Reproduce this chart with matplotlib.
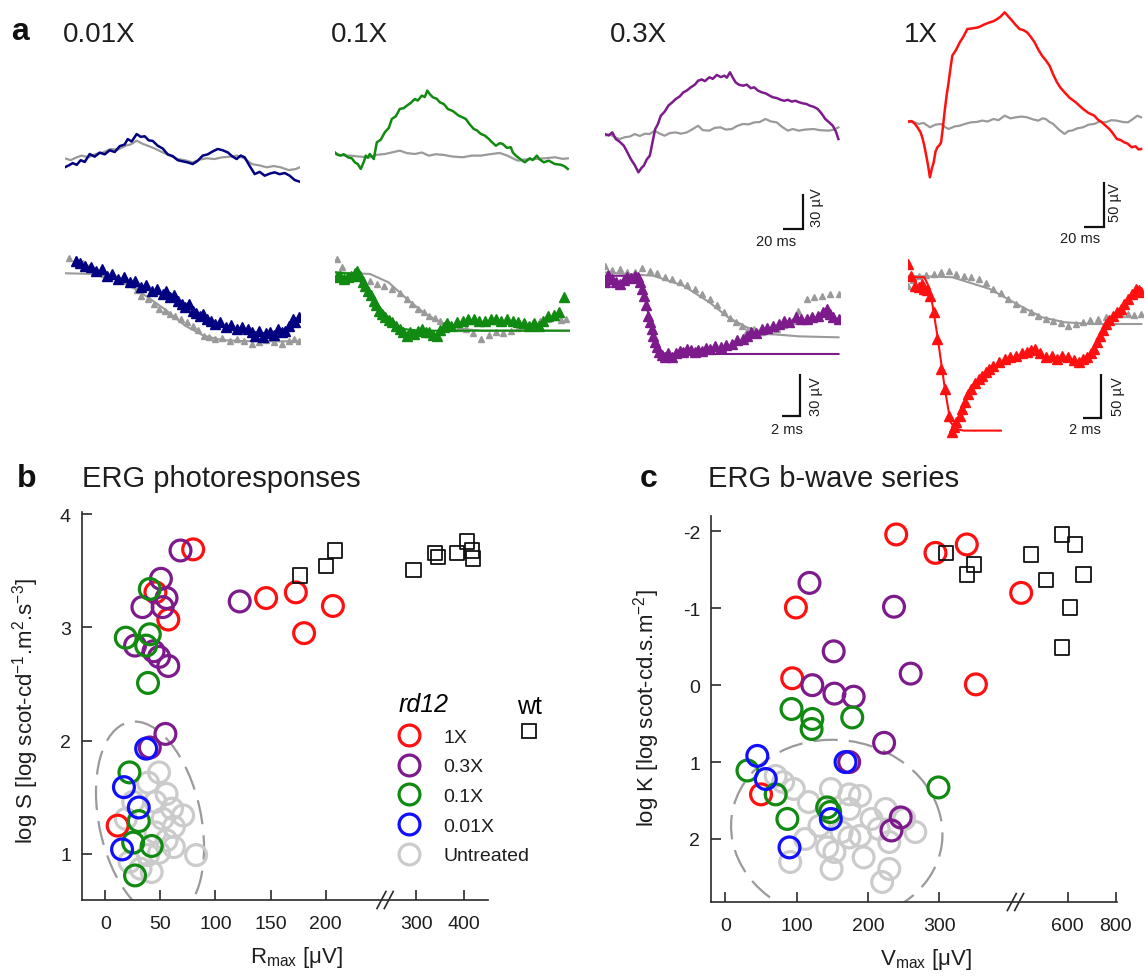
import numpy as np
import matplotlib
matplotlib.use('Agg')
import matplotlib.pyplot as plt
from matplotlib.lines import Line2D
from matplotlib.patches import Ellipse
from matplotlib.transforms import IdentityTransform

plt.rcParams['font.family'] = ['Liberation Sans', 'DejaVu Sans']
plt.rcParams['mathtext.fontset'] = 'custom'
plt.rcParams['mathtext.rm'] = 'Liberation Sans'
plt.rcParams['mathtext.it'] = 'Liberation Sans:italic'
plt.rcParams['mathtext.default'] = 'regular'
plt.rcParams['axes.unicode_minus'] = False

# ---------------- panel a: ERG traces (t in ms, response in uV) ----------------
DOSE_LABELS = ['0.01X', '0.1X', '0.3X', '1X']

# b-wave series, treated (coloured) and untreated (gray)
TOP_001X = [(0, -7.1), (4, -5.5), (8, -3.5), (12, -5.0), (16, -1.0), (20, -2.5), (25, 4.3), (30, 2.0),
            (35, 5.5), (40, 4.0), (45, 7.5), (50, 6.0), (55, 11.0), (60, 12.5), (63, 17.1), (67, 15.0),
            (72, 21.4), (76, 19.0), (80, 19.5), (84, 16.0), (88, 15.5), (93, 11.4), (98, 9.0), (103, 4.0),
            (108, 2.5), (113, -1.0), (118, -2.0), (123, -2.9), (128, -4.3), (133, -1.5), (138, 2.9),
            (143, 4.0), (148, 6.5), (153, 8.6), (158, 7.5), (163, 5.7), (168, 2.0), (172, 0), (176, 3.0),
            (180, 1.4), (185, -6.0), (190, -12.9), (195, -11.0), (200, -14.3), (205, -12.5), (210, -11.4),
            (215, -13.0), (220, -12.0), (225, -14.3), (230, -18.0), (235, -19.4)]
TOP_001X_GRAY = [(0, 0.6), (6, -1.0), (12, 1.5), (17, 2.9), (24, 1.5), (31, 4.3), (38, 5.5), (46, 8.6),
                 (53, 8.0), (61, 11.4), (66, 12.5), (72, 15.7), (78, 13.0), (83, 11.4), (90, 9.0), (98, 5.7),
                 (105, 3.0), (113, 0), (120, -1.0), (128, -2.9), (135, -0.5), (142, 0.6), (150, 0.0),
                 (157, 1.4), (165, 2.0), (172, 2.9), (180, 0.5), (187, -4.3), (195, -5.5), (202, -7.1),
                 (209, -6.0), (216, -7.1), (224, -9.5), (231, -8.6), (235, -7.1)]
TOP_01X = [(0, 3.1), (3, 1.0), (5.5, 0.3), (9, 1.5), (13, -1.1), (17, -2.0), (20, -5.4), (23, -7.0),
           (26, -11.1), (29, -5.0), (31, 0.3), (33, -1.5), (35, 1.7), (39, -2.6), (42, 11.7), (46, 14.0),
           (50, 20.3), (54, 24.0), (57, 31.7), (61, 34.0), (65, 40.3), (69, 41.0), (72, 43.1), (76, 45.5),
           (80, 48.8), (83, 47.5), (87, 51.7), (90, 50.5), (92.5, 56.0), (95, 53.0), (98, 50.3), (102, 49.0),
           (105, 46.0), (109, 44.5), (113, 40.3), (118, 38.5), (124, 34.5), (128, 33.0), (131, 31.7),
           (135, 27.0), (139, 23.1), (142, 22.0), (146, 18.9), (150, 17.5), (154, 14.6), (157, 12.0),
           (161, 8.8), (165, 11.0), (168, 10.3), (172, 7.0), (176, 7.5), (178, 3.0), (181, 0.3), (186, -3.0),
           (190, -5.4), (195, -2.0), (198, -3.5), (202, 0.3), (205, -3.0), (209, -5.4), (214, -4.0),
           (220, -6.9), (226, -7.5), (230, -9.0), (233, -11.1)]
TOP_01X_GRAY = [(0, 1.7), (8, 0.5), (16, 0.3), (24, -0.5), (35, -1.1), (42, 1.0), (50, 1.7), (57, 3.0),
                (65, 4.6), (72, 2.5), (80, 1.7), (87, 3.0), (94, 0.3), (101, 1.5), (109, 0.9), (118, -0.5),
                (128, -1.1), (137, 0.3), (146, 0.3), (155, 1.5), (165, 2.6), (172, 0.5), (178, -2.0),
                (183, -4.0), (190, -3.0), (200, -2.6), (210, -2.0), (220, -1.1), (228, -2.5), (233, -2.0)]
TOP_03X = [(0, 1.7), (4, 0.5), (7.5, 3.1), (11, -2.6), (15, -5.0), (19, -8.3), (22, -13.0), (26, -19.7),
           (30, -25.0), (33.6, -31.1), (37, -27.0), (39, -25.4), (42, -20.0), (45, -16.9), (48, -4.0),
           (50.4, 6.0), (53, 10.0), (56, 17.4), (60, 21.0), (63.5, 26.0), (67, 28.5), (71, 31.7), (75, 34.0),
           (78.5, 37.4), (82, 39.0), (86, 41.7), (90, 44.0), (93.4, 47.4), (97, 48.5), (100, 47.0),
           (104.6, 50.3), (108, 49.0), (112, 52.3), (116, 50.5), (119.6, 51.7), (122, 50.0), (125.2, 54.6),
           (128, 50.0), (130.8, 46.0), (134, 44.0), (138.3, 43.1), (142, 44.0), (146, 41.0), (149.5, 41.7),
           (153, 39.0), (157, 37.4), (161, 36.5), (165, 34.5), (168, 33.2), (172, 32.5), (176, 31.0),
           (179.4, 30.2), (183, 31.0), (187, 29.5), (190.6, 30.2), (194, 29.0), (198, 28.0), (201.8, 27.4),
           (205, 26.0), (209, 25.0), (213, 23.1), (217, 19.0), (220.5, 14.6), (224, 12.0), (228, 8.8),
           (231, 4.0), (233.6, -2.6)]
TOP_03X_GRAY = [(0, 0.3), (5, 1.5), (10, -1.0), (14.9, -2.6), (20, -1.0), (25, -0.5), (29.9, 1.7), (35, 0.0),
                (40, 2.0), (44.8, 1.7), (50, 4.5), (55, 2.0), (59.8, 0.3), (65, 2.5), (71, 3.1), (76, 2.0),
                (82, 3.1), (87, 5.5), (93.4, 8.8), (98, 5.0), (104.6, 4.6), (110, 7.0), (115.8, 7.4),
                (121, 5.5), (127, 6.0), (132, 8.5), (138, 10.3), (144, 10.0), (149.5, 11.7), (155, 12.0),
                (160.7, 14.6), (166, 12.5), (172, 11.7), (177, 8.0), (183, 4.6), (188, 6.0), (194, 4.6),
                (200, 5.5), (209, 6.0), (215, 5.0), (224, 4.6), (229, 5.5), (233.6, 7.4)]
TOP_1X = [(0, 0.4), (4, 1.0), (7.5, -2.2), (10, -6.0), (13.1, -11.5), (15, -18.0), (16.8, -26.3),
          (18.7, -37.0), (20.6, -48.5), (22.4, -61.5), (24.3, -52.0), (26.2, -44.8), (28, -33.0),
          (29.9, -28.1), (31.8, -26.0), (33.6, -22.6), (35.5, -5.0), (37.4, 14.4), (39.2, 30.0), (41.1, 44.1),
          (43, 60.0), (44.8, 73.7), (48.5, 80.0), (52.3, 88.5), (56, 95.0), (59.8, 103.3), (65, 104.0),
          (71, 105.2), (76, 108.0), (82.2, 110.7), (86, 112.0), (89.7, 114.4), (93, 117.0), (97.2, 121.9),
          (101, 117.0), (104.6, 112.6), (108, 108.0), (112.1, 103.3), (116, 102.0), (119.6, 99.6),
          (123, 95.0), (127.1, 88.5), (131, 80.0), (134.5, 73.7), (138, 69.0), (142, 62.6), (146, 52.0),
          (149.5, 44.1), (153, 38.0), (157, 33.0), (162, 27.0), (168.2, 21.9), (172, 18.0), (175.6, 14.4),
          (181, 10.0), (186.8, 7.0), (190, 3.0), (194.3, -0.4), (198, -4.0), (201.8, -7.8), (205, -12.0),
          (209.3, -18.9), (213, -20.0), (216.7, -22.6), (220, -24.0), (224.2, -28.1), (228, -27.0),
          (231, -30.5), (233.6, -30.0)]
TOP_1X_GRAY = [(0, -0.4), (5, 0.5), (11.2, -2.2), (16, -1.0), (22.4, -5.9), (28, -3.0), (33.6, -2.2),
               (38, -6.0), (41.1, -7.8), (47, -5.0), (52.3, -4.1), (58, -2.0), (63.5, -0.4), (69, 0.0),
               (74.7, 1.5), (80, 0.5), (86, 3.3), (91, 2.0), (97.2, 7.0), (103, 4.0), (108.4, 5.2), (114, 6.0),
               (119.6, 5.2), (125, 3.0), (130.8, 1.5), (135, 4.0), (138.3, 3.3), (142, 0.0), (145.7, -2.2),
               (151, -8.0), (157, -13.3), (161, -10.0), (164.4, -9.6), (170, -7.0), (175.6, -5.9), (181, -3.0),
               (186.8, -2.2), (192, 0.5), (198.1, -0.4), (204, 2.0), (209.3, 1.5), (215, 0.0), (220.5, -0.4),
               (225, 3.0), (229.8, 7.0), (233.6, 5.2)]

# a-wave leading edges (triangles) with model fits (lines)
BOT_001X = [(1.23, 8.8), (1.75, 7.0), (2.26, 5.2), (2.9, 4.5), (3.5, 1.7), (4.1, 2.5), (4.73, -1.9),
            (5.3, -0.5), (5.97, -4.3), (6.6, -3.0), (7.2, -6.7), (7.8, -5.5), (8.44, -10.2), (9.0, -8.5),
            (9.67, -12.6), (10.3, -11.5), (10.91, -15.0), (11.3, -13.0), (11.73, -17.4), (12.1, -15.5),
            (12.55, -19.8), (13.0, -22.0), (13.37, -24.5), (13.8, -22.5), (14.2, -26.9), (14.6, -28.5),
            (15.02, -30.5), (15.4, -29.0), (15.84, -32.9), (16.2, -34.5), (16.67, -36.4), (17.3, -35.0),
            (17.9, -38.8), (18.5, -37.0), (19.14, -40.0), (19.7, -38.5), (20.37, -40.0), (20.8, -42.0),
            (21.19, -44.8), (21.6, -41.5), (22.02, -46.0), (22.4, -43.0), (22.84, -42.4), (23.2, -44.0),
            (23.66, -40.0), (24.1, -42.5), (24.49, -41.2), (24.9, -38.0), (25.31, -32.9), (25.6, -35.0),
            (26.0, -31.7)]
BOT_001X_GRAY = [(0.5, 11.0), (1.23, 10.0), (2.0, 7.0), (2.67, 4.0), (3.5, 2.0), (4.32, -0.7), (5.1, -2.5),
                 (5.97, -4.3), (6.8, -6.0), (7.61, -7.9), (8.0, -12.0), (8.44, -16.2), (9.26, -18.6),
                 (9.9, -22.0), (10.49, -25.7), (11.1, -27.0), (11.73, -29.3), (12.3, -31.0), (12.96, -32.9),
                 (13.6, -35.0), (14.2, -37.6), (14.8, -41.0), (15.43, -44.8), (16.0, -46.0), (16.67, -47.1),
                 (17.5, -46.5), (18.31, -48.3), (19.1, -47.5), (19.96, -48.3), (20.8, -50.5), (21.6, -49.5),
                 (22.4, -48.0), (23.25, -49.0), (24.1, -50.5), (24.9, -48.3), (25.5, -47.0), (26.0, -48.3)]
BOT_001X_GRAY_FIT = [(0, -0.2), (3.09, -0.7), (5.14, -3.1), (7.2, -9.0), (9.26, -17.4), (11.32, -26.9),
                     (13.37, -37.6), (15.43, -44.8), (17.49, -47.9), (19.55, -48.6), (21.6, -48.8), (26.0, -48.8)]

BOT_01X = [(0.21, -3.1), (0.6, -2.0), (1.03, -4.3), (1.45, -3.0), (1.85, -1.9), (2.2, 0.0), (2.47, 1.7),
           (2.8, -2.5), (3.09, -6.7), (3.4, -9.0), (3.7, -12.6), (4.0, -16.0), (4.32, -19.8), (4.6, -23.0),
           (4.94, -26.9), (5.25, -29.0), (5.56, -31.7), (6.0, -33.5), (6.38, -35.2), (6.8, -38.0), (7.2, -40.0),
           (7.6, -42.5), (8.02, -44.8), (8.4, -42.0), (8.85, -43.6), (9.25, -41.5), (9.67, -40.0),
           (10.1, -42.5), (10.49, -42.4), (10.9, -44.0), (11.32, -44.8), (11.7, -41.0), (12.14, -38.8),
           (12.5, -36.0), (12.96, -37.6), (13.6, -35.0), (14.2, -34.0), (14.8, -33.0), (15.43, -32.9),
           (16.0, -34.5), (16.67, -34.0), (17.3, -33.0), (17.9, -32.9), (18.5, -34.0), (19.14, -32.9),
           (19.8, -34.5), (20.37, -35.2), (21.0, -36.0), (21.6, -37.6), (22.1, -36.0), (22.63, -37.6),
           (23.1, -34.0), (23.66, -30.5), (24.3, -30.0), (24.9, -28.1), (25.51, -17.4)]
BOT_01X_FIT = [(0, 0.5), (1.85, -0.7), (2.7, -5.0), (3.5, -11.4), (4.3, -18.5), (5.14, -25.7), (6.38, -35.2),
               (7.61, -40.0), (9.26, -41.2), (26.0, -41.2)]
BOT_01X_GRAY = [(0.21, 10.0), (0.8, 4.0), (1.44, -1.9), (2.2, -3.0), (3.09, -4.3), (3.9, -6.0), (4.73, -7.9),
                (5.5, -9.0), (6.38, -11.4), (7.2, -14.5), (8.02, -18.6), (8.6, -22.0), (9.26, -25.7),
                (9.9, -28.0), (10.49, -30.5), (11.1, -32.0), (11.73, -34.0), (12.3, -36.0), (12.96, -37.6),
                (13.8, -39.0), (14.61, -40.0), (15.4, -43.0), (16.26, -47.1), (17.1, -44.0), (17.9, -42.4),
                (18.7, -43.0), (19.55, -41.2), (20.4, -39.0), (21.19, -37.6), (22.0, -36.0), (22.84, -34.0),
                (23.7, -33.0), (24.49, -31.7), (25.1, -33.5), (25.72, -32.9)]
BOT_01X_GRAY_FIT = [(0, 0.5), (3.91, -0.7), (5.97, -6.7), (8.02, -18.6), (10.08, -29.3), (12.14, -36.4),
                    (14.2, -40.0), (16.26, -41.2), (26.0, -41.2)]

BOT_03X = [(0, -4.5), (0.4, 0.5), (0.83, -2.1), (1.25, -4.0), (1.66, -5.7), (2.1, -3.0), (2.49, -0.9),
           (2.9, -1.5), (3.32, 0.2), (3.65, -1.0), (3.95, -4.5), (4.15, -9.0), (4.36, -14.0), (4.57, -21.0),
           (4.78, -28.3), (5.0, -33.0), (5.19, -37.9), (5.4, -43.0), (5.61, -47.4), (5.8, -51.0), (6.02, -54.5),
           (6.3, -56.5), (6.64, -58.1), (7.0, -55.0), (7.48, -58.1), (7.9, -55.0), (8.31, -53.3), (8.7, -54.0),
           (9.14, -52.1), (9.55, -53.0), (9.97, -54.5), (10.4, -52.5), (10.8, -53.3), (11.2, -51.5),
           (11.63, -52.1), (12.2, -50.0), (12.87, -50.9), (13.5, -49.5), (14.12, -48.6), (14.7, -46.0),
           (15.37, -45.0), (15.8, -43.0), (16.2, -40.2), (16.8, -40.5), (17.44, -37.9), (18.0, -37.0),
           (18.69, -35.5), (19.3, -34.0), (19.93, -31.9), (20.5, -32.5), (21.18, -29.5), (21.8, -31.0),
           (22.43, -30.7), (23.0, -29.0), (23.67, -28.3), (24.2, -26.0), (24.71, -23.6), (25.0, -27.0),
           (25.33, -29.5), (25.96, -30.7)]
BOT_03X_FIT = [(0, 0.2), (3.32, 0.2), (3.95, -2.1), (4.57, -18.8), (5.19, -37.9), (5.81, -50.9), (6.64, -55.7),
               (7.48, -55.7), (25.96, -55.7)]
BOT_03X_GRAY = [(0, 7.4), (0.8, 4.5), (1.66, 5.0), (2.5, 3.0), (3.32, 2.6), (4.1, 5.5), (4.98, 3.8), (5.8, 2.0),
                (6.64, -0.9), (7.5, -2.0), (8.31, -4.5), (9.1, -6.5), (9.97, -9.3), (10.8, -13.0),
                (11.63, -16.4), (12.5, -21.0), (13.29, -25.9), (13.9, -30.0), (14.53, -33.1), (15.2, -36.0),
                (15.78, -39.0), (16.6, -38.0), (17.44, -40.2), (18.3, -39.0), (19.1, -37.9), (19.9, -35.0),
                (20.77, -31.9), (21.5, -25.0), (22.43, -16.4), (23.2, -15.0), (24.09, -14.0), (25.0, -12.5),
                (25.96, -12.9)]
BOT_03X_GRAY_FIT = [(0, 2.6), (5.4, 0.2), (8.72, -6.9), (11.63, -18.8), (13.7, -29.5), (15.78, -36.7),
                    (18.27, -41.4), (21.59, -43.1), (25.96, -43.8)]

BOT_1X = [(0, 15.1), (0.42, 1.8), (0.83, -9.5), (1.25, -11.4), (1.56, -8.0), (1.87, -13.3), (2.18, -15.0),
          (2.49, -20.9), (2.91, -39.8), (3.32, -70.1), (3.74, -104.2), (4.15, -126.9), (4.57, -157.3),
          (4.9, -176.1), (5.15, -170.0), (5.4, -164.8), (5.81, -157.3), (6.1, -150.0), (6.44, -142.0),
          (6.75, -133.0), (7.06, -126.9), (7.5, -120.0), (7.89, -115.6), (8.3, -112.0), (8.72, -108.0),
          (9.1, -104.0), (9.55, -100.5), (10.2, -96.0), (10.8, -92.8), (11.4, -91.0), (12.04, -89.1),
          (12.7, -86.0), (13.29, -85.2), (13.7, -83.0), (14.12, -81.5), (14.7, -86.0), (15.37, -90.9),
          (16.0, -89.0), (16.61, -92.8), (17.2, -89.0), (17.86, -90.9), (18.5, -94.0), (19.1, -96.6),
          (19.5, -93.0), (19.93, -90.9), (20.35, -86.0), (20.76, -81.5), (21.1, -74.0), (21.39, -66.4),
          (21.7, -60.0), (22.01, -53.1), (22.4, -48.0), (22.84, -43.6), (23.3, -40.0), (23.67, -36.0),
          (24.1, -30.0), (24.5, -24.7), (24.9, -19.0), (25.33, -13.3), (25.7, -15.0), (25.96, -17.0)]
BOT_1X_FIT = [(0, 0), (1.87, 0), (2.49, -13.3), (3.32, -66.4), (4.15, -126.9), (4.78, -164.8), (5.4, -172.3),
              (6.23, -174.2), (10.38, -174.2)]
BOT_1X_GRAY = [(0, -9.5), (0.6, -3.0), (1.25, 1.8), (2.1, 2.5), (2.91, 3.8), (3.7, 5.5), (4.57, 7.5), (5.4, 4.0),
               (6.23, 1.8), (7.1, 0.0), (7.89, -1.9), (8.7, -6.0), (9.55, -13.3), (10.4, -18.0), (11.21, -24.7),
               (12.0, -30.0), (12.87, -36.0), (13.7, -40.0), (14.53, -43.6), (15.4, -47.0), (16.2, -49.3),
               (17.0, -52.0), (17.86, -55.0), (18.7, -53.0), (19.52, -51.1), (20.3, -49.0), (21.18, -47.4),
               (22.0, -45.0), (22.84, -43.6), (23.7, -42.0), (24.5, -41.7), (25.2, -43.0), (25.96, -41.7)]
BOT_1X_GRAY_FIT = [(0, 1.8), (4.98, 0), (9.14, -13.3), (12.46, -32.2), (14.95, -45.5), (17.44, -51.1),
                   (20.35, -53.1), (25.96, -53.1)]

# ---------------- panel b: ERG photoresponses ----------------
B_1X_RMAX = [79.7, 45.4, 57.1, 146, 173, 180.5, 206.7, 11.1]
B_1X_LOGS = [3.69, 3.31, 3.07, 3.26, 3.31, 2.95, 3.19, 1.25]
B_03X_RMAX = [68.2, 50.4, 33.6, 55.5, 52.0, 26.9, 43.7, 48.7, 57.1, 122, 54.5, 40.3]
B_03X_LOGS = [3.68, 3.43, 3.18, 3.26, 3.18, 2.84, 2.79, 2.74, 2.66, 3.23, 2.06, 1.94]
B_01X_RMAX = [40.3, 18.5, 40.3, 37.0, 38.7, 21.8, 30.3, 25.2, 42.0, 26.9]
B_01X_LOGS = [3.34, 2.91, 2.94, 2.84, 2.51, 1.72, 1.29, 1.10, 1.07, 0.81]
B_001X_RMAX = [37.0, 16.8, 30.3, 15.1]
B_001X_LOGS = [1.93, 1.59, 1.41, 1.04]
B_UNTR_RMAX = [48.7, 38.7, 55.5, 45.4, 60.5, 70.6, 52.0, 62.2, 45.4, 55.5, 38.7, 48.7, 31.9, 42.0, 25.2,
               21.8, 82.4, 62.2, 18.5]
B_UNTR_LOGS = [1.72, 1.63, 1.53, 1.46, 1.40, 1.34, 1.31, 1.24, 1.19, 1.12, 0.99, 1.01, 0.87, 0.84, 1.46,
               0.93, 0.99, 1.06, 1.31]
B_WT_RMAX = [177, 200.7, 208.4, 294.6, 338.5, 346, 384.6, 405.4, 415.4, 417.7]
B_WT_LOGS = [3.46, 3.54, 3.68, 3.51, 3.66, 3.62, 3.66, 3.76, 3.68, 3.61]
B_XTICKS = [0, 50, 100, 150, 200, 300, 400]
B_YTICKS = [1, 2, 3, 4]

# ---------------- panel c: ERG b-wave series ----------------
C_1X_VMAX = [239.7, 294.8, 338.7, 99, 93.8, 351.5, 405, 50]
C_1X_LOGK = [-1.96, -1.72, -1.83, -1.01, -0.09, -0.01, -1.20, 1.42]
C_03X_VMAX = [118, 236.6, 152, 260, 122, 153, 180, 222.7, 173.7, 246, 233]
C_03X_LOGK = [-1.33, -1.02, -0.44, -0.15, 0.00, 0.11, 0.15, 0.75, 1.00, 1.72, 1.89]
C_01X_VMAX = [92.8, 122, 121, 178, 31, 70.6, 87, 142.8, 147, 299]
C_01X_LOGK = [0.31, 0.44, 0.57, 0.42, 1.11, 1.42, 1.74, 1.59, 1.65, 1.33]
C_001X_VMAX = [44.8, 56.7, 148, 168.6, 90]
C_001X_LOGK = [0.92, 1.22, 1.74, 1.00, 2.11]
C_UNTR_VMAX = [81, 96, 148, 174, 189, 117, 174, 225, 205, 132, 163, 189, 215, 266.5, 251, 112, 143, 153,
               194, 91, 149, 230, 220, 174, 70.6, 230]
C_UNTR_LOGK = [1.26, 1.35, 1.35, 1.42, 1.44, 1.52, 1.61, 1.61, 1.74, 1.83, 1.91, 1.96, 1.87, 1.91, 1.74,
               2.00, 2.11, 2.17, 2.24, 2.30, 2.39, 2.39, 2.56, 1.98, 1.18, 2.04]
C_WT_VMAX = [310, 338.7, 349, 446, 508, 577, 631, 608, 666, 577]
C_WT_LOGK = [-1.72, -1.44, -1.57, -1.70, -1.37, -1.96, -1.83, -1.01, -1.44, -0.49]
C_XTICKS = [0, 100, 200, 300, 600, 800]
C_YTICKS = [-2, -1, 0, 1, 2]

# untreated-cluster outlines: centre (data), size in pixels, tilt in degrees
B_CLUSTER = ((40.5, 1.30), 102, 200, 12)
C_CLUSTER = ((156.3, 1.885), 212, 180, -8)

RED, PURPLE, GREEN, BLUE = '#ff1010', '#7d1a8c', '#118a11', '#1010ff'
NAVY, TRACE_GRAY, UNTREATED = '#000080', '#9a9a9a', '#cbcbcb'
TEXT = '#1e1e1e'

W, H = 1146, 978
fig = plt.figure(figsize=(W / 100, H / 100), dpi=100)


def px_axes(x0, y0, w, h):
    return fig.add_axes([x0 / W, 1 - (y0 + h) / H, w / W, h / H])


def pairs(p):
    a = np.array(p, dtype=float)
    return a[:, 0], a[:, 1]


# ---------------- panel a ----------------
col_x0 = [64.7, 334.8, 604.8, 907.5]
trace_colors = [NAVY, GREEN, PURPLE, RED]
top_traces = [(TOP_001X, TOP_001X_GRAY), (TOP_01X, TOP_01X_GRAY), (TOP_03X, TOP_03X_GRAY), (TOP_1X, TOP_1X_GRAY)]
bot_traces = [(BOT_001X, None, BOT_001X_GRAY, BOT_001X_GRAY_FIT),
              (BOT_01X, BOT_01X_FIT, BOT_01X_GRAY, BOT_01X_GRAY_FIT),
              (BOT_03X, BOT_03X_FIT, BOT_03X_GRAY, BOT_03X_GRAY_FIT),
              (BOT_1X, BOT_1X_FIT, BOT_1X_GRAY, BOT_1X_GRAY_FIT)]
top_ylims = [(-72.8, 132.8), (-75.4, 130.2), (-92.5, 113.1), (-135.6, 131.1)]
bot_ylims = [(-125.7, 20.7), (-125.7, 20.7), (-123.6, 22.9), (-195.1, 37.8)]
# scale bars: (x end, y bottom, dx, dy, time label pos, amp label pos, labels)
top_bars = {2: (198.2, -79.7, 20, 30, (171.2, -84), (212.2, -60.8), '20 ms', '30 µV'),
            3: (196.5, -116.7, 20, 50, (172.5, -121), (207.5, -88.9), '20 ms', '50 µV')}
bot_bars = {2: (21.7, -100, 2, 30, (20.2, -104.3), (23.5, -85.7), '2 ms', '30 µV'),
            3: (21.5, -159.9, 2, 50, (19.7, -164.4), (23.4, -134.9), '2 ms', '50 µV')}


def draw_bar(ax, spec):
    xe, yb, dx, dy, tpos, vpos, tl, vl = spec
    ax.plot([xe - dx, xe, xe], [yb, yb, yb + dy], color='#111111', lw=1.6, solid_joinstyle='miter',
            solid_capstyle='butt', clip_on=False)
    ax.text(tpos[0], tpos[1], tl, ha='center', va='top', fontsize=10.5, color=TEXT)
    ax.text(vpos[0], vpos[1], vl, ha='center', va='center', rotation=90, fontsize=10.5, color=TEXT)


for i in range(4):
    ax = px_axes(col_x0[i], 5, 235, 240)
    ax.set_axis_off()
    ax.set_xlim(0, 235)
    ax.set_ylim(*top_ylims[i])
    t, v = pairs(top_traces[i][1])
    ax.plot(t, v, color=TRACE_GRAY, lw=1.6)
    t, v = pairs(top_traces[i][0])
    ax.plot(t, v, color=trace_colors[i], lw=1.8)
    if i in top_bars:
        draw_bar(ax, top_bars[i])

    ax = px_axes(col_x0[i], 245, 235, 205)
    ax.set_axis_off()
    ax.set_xlim(0, 26.1)
    ax.set_ylim(*bot_ylims[i])
    tri, fit, gtri, gfit = bot_traces[i]
    t, v = pairs(gfit)
    ax.plot(t, v, color=TRACE_GRAY, lw=1.5)
    t, v = pairs(gtri)
    ax.plot(t, v, ls='none', marker='^', ms=4.5, color=TRACE_GRAY, mec=TRACE_GRAY)
    if fit is not None:
        t, v = pairs(fit)
        ax.plot(t, v, color=trace_colors[i], lw=1.5)
    t, v = pairs(tri)
    ax.plot(t, v, ls='none', marker='^', ms=6.5, color=trace_colors[i], mec=trace_colors[i])
    if i in bot_bars:
        draw_bar(ax, bot_bars[i])

fig.text(11 / W, 1 - 40 / H, 'a', fontsize=23, fontweight='bold', va='baseline', color='#111111')
for x, lab in zip([63, 331, 610, 904], DOSE_LABELS):
    fig.text(x / W, 1 - 42 / H, lab, fontsize=20, va='baseline', color=TEXT)

# ---------------- panels b and c ----------------
B_BREAK_X = [-200, 250, 280, 1500]
B_BREAK_F = [-200, 250, 273.6, 806.7]
C_BREAK_X = [-200, 360, 385, 1500]
C_BREAK_F = [-200, 360, 408.3, 782.4]

CIRCLE = dict(s=225, facecolors='none', linewidths=2.3)
SQUARE = dict(s=105, marker='s', facecolors='none', edgecolors='#111111', linewidths=1.3)


def style_axes(ax, bx, bf, break_frac):
    ax.set_xscale('function', functions=(lambda x: np.interp(x, bx, bf), lambda y: np.interp(y, bf, bx)))
    for s in ['top', 'right']:
        ax.spines[s].set_visible(False)
    for s in ['left', 'bottom']:
        ax.spines[s].set_linewidth(1.2)
        ax.spines[s].set_color('#2a2a2a')
    ax.tick_params(direction='in', length=7.5, width=1.2, labelsize=14, color='#2a2a2a', labelcolor=TEXT)
    ax.tick_params(axis='x', pad=11)
    ax.tick_params(axis='y', pad=8)
    for dx in (-0.009, 0.009):
        ax.plot([break_frac + dx - 0.011, break_frac + dx + 0.011], [-0.022, 0.022], transform=ax.transAxes,
                color='#2a2a2a', lw=1.2, clip_on=False)


def cluster_outline(ax, spec):
    centre, w_px, h_px, tilt = spec
    xy = ax.transData.transform(centre)
    ax.add_patch(Ellipse(xy, w_px, height=h_px, angle=tilt, transform=IdentityTransform(), fill=False,
                         ec='#9a9a9a', lw=1.6, ls=(0, (11, 5))))


def scatter_groups(ax, groups, wt):
    for xs, ys, c in groups:
        ax.scatter(xs, ys, edgecolors=c, **CIRCLE)
    ax.scatter(wt[0], wt[1], **SQUARE)


# panel b
ax_b = px_axes(82, 513, 406.3, 388)
style_axes(ax_b, B_BREAK_X, B_BREAK_F, 0.746)
ax_b.set_xlim(-21.3, 450)
ax_b.set_ylim(0.593, 4.02)
ax_b.set_xticks(B_XTICKS)
ax_b.set_yticks(B_YTICKS)
cluster_outline(ax_b, B_CLUSTER)
ax_b.scatter(B_UNTR_RMAX, B_UNTR_LOGS, edgecolors=UNTREATED, **CIRCLE)
scatter_groups(ax_b, [(B_1X_RMAX, B_1X_LOGS, RED), (B_03X_RMAX, B_03X_LOGS, PURPLE),
                      (B_01X_RMAX, B_01X_LOGS, GREEN), (B_001X_RMAX, B_001X_LOGS, BLUE)],
               (B_WT_RMAX, B_WT_LOGS))
ax_b.set_ylabel(r'log S [log scot-cd$^{-1}$.m$^{2}$.s$^{-3}$]', fontsize=16, color=TEXT)
ax_b.yaxis.set_label_coords(-0.101, 0.49)
ax_b.set_xlabel(r'R$_{max}$ [μV]', fontsize=16, color=TEXT)
ax_b.xaxis.set_label_coords(0.527, -0.113)

handles = [Line2D([], [], ls='none', marker='o', ms=15, mfc='none', mec=c, mew=2.3)
           for c in [RED, PURPLE, GREEN, BLUE, UNTREATED]]
leg = ax_b.legend(handles, ['1X', '0.3X', '0.1X', '0.01X', 'Untreated'], title='rd12',
                  title_fontproperties={'style': 'italic', 'size': 18}, fontsize=14, frameon=False,
                  loc='upper left', bbox_to_anchor=((399 - 82) / 406.3, (901 - 693) / 388),
                  handlelength=1.0, handletextpad=1.3, labelspacing=0.62, borderpad=0,
                  borderaxespad=0, alignment='left', labelcolor=TEXT)
ax_b.add_artist(leg)
wt_handle = Line2D([], [], ls='none', marker='s', ms=10, mfc='none', mec='#111111', mew=1.3)
ax_b.legend([wt_handle], [''], title='wt', title_fontproperties={'size': 18}, frameon=False,
            loc='upper left', bbox_to_anchor=((517 - 82) / 406.3, (901 - 695) / 388),
            handlelength=1.0, handletextpad=0, borderpad=0, borderaxespad=0, alignment='center')

# panel c
ax_c = px_axes(711.4, 517, 406, 386)
style_axes(ax_c, C_BREAK_X, C_BREAK_F, 0.749)
ax_c.set_xlim(-19.6, 807.5)
ax_c.set_ylim(2.82, -2.2)
ax_c.set_xticks(C_XTICKS)
ax_c.set_yticks(C_YTICKS)
cluster_outline(ax_c, C_CLUSTER)
ax_c.scatter(C_UNTR_VMAX, C_UNTR_LOGK, edgecolors=UNTREATED, **CIRCLE)
scatter_groups(ax_c, [(C_1X_VMAX, C_1X_LOGK, RED), (C_03X_VMAX, C_03X_LOGK, PURPLE),
                      (C_01X_VMAX, C_01X_LOGK, GREEN), (C_001X_VMAX, C_001X_LOGK, BLUE)],
               (C_WT_VMAX, C_WT_LOGK))
ax_c.set_ylabel(r'log K [log scot-cd.s.m$^{-2}$]', fontsize=16, color=TEXT)
ax_c.yaxis.set_label_coords(-0.121, 0.505)
ax_c.set_xlabel(r'V$_{max}$ [μV]', fontsize=16, color=TEXT)
ax_c.xaxis.set_label_coords(0.527, -0.114)

fig.text(17 / W, 1 - 487 / H, 'b', fontsize=23, fontweight='bold', va='baseline', color='#111111')
fig.text(82 / W, 1 - 487 / H, 'ERG photoresponses', fontsize=21, va='baseline', color=TEXT)
fig.text(640 / W, 1 - 487 / H, 'c', fontsize=23, fontweight='bold', va='baseline', color='#111111')
fig.text(708 / W, 1 - 487 / H, 'ERG b-wave series', fontsize=21, va='baseline', color=TEXT)

fig.savefig('out.png', dpi=100)
